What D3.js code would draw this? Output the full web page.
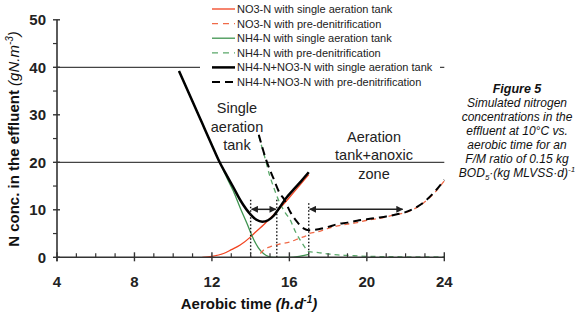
<!DOCTYPE html>
<html>
<head>
<meta charset="utf-8">
<script src="https://cdn.jsdelivr.net/npm/d3@7"></script>
<style>
  html, body { margin: 0; padding: 0; background: #fff; }
  svg { display: block; font-family: "Liberation Sans", Arial, sans-serif; }
</style>
</head>
<body>
<svg id="chart" width="580" height="315"></svg>
<script>
// ---------- DATA ----------
const xTicks = [4, 8, 12, 16, 20, 24];
const yTicks = [0, 10, 20, 30, 40, 50];
const gridValues = [20, 40];

// NO3-N with single aeration tank
const no3SingleX = [11.5, 12.0, 12.6, 13.0, 13.46, 14.0, 14.3, 14.66, 15.0, 15.5, 16.0, 16.5, 17.0];
const no3SingleY = [0, 0.2, 0.8, 1.6, 2.6, 4.3, 5.5, 6.8, 8.2, 10.3, 12.6, 15.0, 17.4];

// NO3-N with pre-denitrification
const no3PreX = [14.5, 14.66, 15.0, 15.5, 16.0, 16.5, 16.95, 17.0, 17.5, 18.0, 18.5, 19.0, 19.5, 20.0, 20.5, 21.0, 21.5, 22.0, 22.5, 23.0, 23.5, 24.0];
const no3PreY = [0.8, 1.5, 2.2, 2.8, 3.2, 4.0, 4.8, 5.0, 5.4, 6.1, 6.6, 7.0, 7.3, 7.8, 8.1, 8.5, 9.0, 9.4, 10.3, 11.7, 13.6, 16.1];

// NH4-N with single aeration tank
const nh4SingleX = [10.3, 11.0, 11.5, 12.0, 12.4, 12.8, 13.1, 13.5, 13.8, 14.0, 14.15, 14.4, 14.66, 14.9, 15.2, 16.0, 16.5, 17.0];
const nh4SingleY = [39.2, 32.8, 28.2, 23.6, 20.0, 16.5, 14.0, 10.0, 7.2, 5.2, 3.8, 2.0, 0.8, 0.2, 0, 0, 0.2, 0.6];

// NH4-N with pre-denitrification
const nh4PreX = [14.42, 14.7, 15.0, 15.2, 15.5, 15.8, 16.04, 16.3, 16.56, 16.75, 17.0, 17.5, 18.0, 18.5, 19.0, 20.0, 21.0, 22.0, 24.0];
const nh4PreY = [25.5, 21.5, 17.0, 14.6, 11.5, 9.3, 7.9, 5.5, 3.6, 2.4, 1.2, 1.0, 0.7, 0.5, 0.4, 0.2, 0.15, 0.1, 0.1];

// NH4-N+NO3-N with single aeration tank
const totSingleX = [10.3, 11.0, 11.5, 12.0, 12.4, 12.8, 13.1, 13.5, 14.0, 14.3, 14.6, 14.9, 15.2, 15.5, 15.8, 16.2, 16.6, 17.0];
const totSingleY = [39.2, 32.8, 28.2, 23.6, 20.0, 17.0, 14.8, 11.8, 9.0, 7.9, 7.5, 7.8, 8.8, 10.5, 12.3, 14.2, 16.0, 17.9];

// NH4-N+NO3-N with pre-denitrification
const totPreX = [14.42, 14.8, 15.18, 15.5, 15.7, 16.04, 16.39, 16.73, 17.0, 17.5, 18.0, 18.5, 19.0, 19.5, 20.0, 20.5, 21.0, 21.5, 22.0, 22.5, 23.0, 23.5, 24.0];
const totPreY = [25.8, 20.5, 16.6, 13.5, 12.4, 9.6, 7.5, 6.1, 5.7, 5.9, 6.4, 7.0, 7.3, 7.7, 8.0, 8.3, 8.6, 9.0, 9.5, 10.4, 11.8, 13.8, 16.3];

// markers: dotted vertical lines and arrows
const dottedX = [14.0, 15.35, 17.0];
const dottedTop = [12.3, 12.3, 11.7];
const arrowFrom = [14.0, 17.0];
const arrowTo = [15.35, 21.9];
const arrowY = [10.1, 10.1];

const legendLabels = [
  "NO3-N with single aeration tank",
  "NO3-N with pre-denitrification",
  "NH4-N with single aeration tank",
  "NH4-N with pre-denitrification",
  "NH4-N+NO3-N with single aeration tank",
  "NH4-N+NO3-N with pre-denitrification"
];

// ---------- STYLES ----------
const RED = "#f2421f", RED_D = "#f06a48", GREEN = "#3f9450", GREEN_D = "#5aa86a";
const styles = [
  { color: RED, width: 1.3, dash: null },
  { color: RED_D, width: 1.3, dash: "5,4" },
  { color: GREEN, width: 1.3, dash: null },
  { color: GREEN_D, width: 1.3, dash: "5,4" },
  { color: "#000", width: 2.5, dash: null },
  { color: "#000", width: 2.0, dash: "8,5" }
];
const seriesX = [no3SingleX, no3PreX, nh4SingleX, nh4PreX, totSingleX, totPreX];
const seriesY = [no3SingleY, no3PreY, nh4SingleY, nh4PreY, totSingleY, totPreY];

// ---------- CHART ----------
const svg = d3.select("#chart");
const x = d3.scaleLinear().domain([4, 24]).range([57, 444.3]);
const y = d3.scaleLinear().domain([0, 50]).range([257.3, 19.8]);
const AX = "#333";

// gridlines
svg.selectAll("line.grid").data(gridValues).enter().append("line")
  .attr("x1", x(4)).attr("x2", x(24))
  .attr("y1", d => y(d)).attr("y2", d => y(d))
  .attr("stroke", "#444").attr("stroke-width", 1.2);

// series
const line = d3.line().x(d => x(d[0])).y(d => y(d[1])).curve(d3.curveMonotoneX);
const drawOrder = [0, 2, 1, 3, 5, 4];
drawOrder.forEach(i => {
  const pts = seriesX[i].map((v, k) => [v, seriesY[i][k]]);
  svg.append("path").datum(pts)
    .attr("d", line)
    .attr("fill", "none")
    .attr("stroke", styles[i].color)
    .attr("stroke-width", styles[i].width)
    .attr("stroke-dasharray", styles[i].dash)
    .attr("stroke-linejoin", "round");
});

// dotted vertical lines
svg.selectAll("line.dot").data(dottedX).enter().append("line")
  .attr("x1", d => x(d)).attr("x2", d => x(d))
  .attr("y1", y(0)).attr("y2", (d, i) => y(dottedTop[i]))
  .attr("stroke", "#111").attr("stroke-width", 1.4).attr("stroke-dasharray", "1.5,2");

// arrows
const defs = svg.append("defs");
defs.append("marker").attr("id", "ah").attr("viewBox", "0 0 10 10")
  .attr("refX", 9).attr("refY", 5).attr("markerWidth", 7).attr("markerHeight", 7)
  .attr("markerUnits", "userSpaceOnUse")
  .attr("orient", "auto-start-reverse")
  .append("path").attr("d", "M0,0L10,5L0,10z").attr("fill", "#222");
arrowFrom.forEach((f, i) => {
  svg.append("line")
    .attr("x1", x(f) + 1).attr("x2", x(arrowTo[i]) - 1)
    .attr("y1", y(arrowY[i])).attr("y2", y(arrowY[i]))
    .attr("stroke", "#222").attr("stroke-width", 1.5)
    .attr("marker-start", "url(#ah)").attr("marker-end", "url(#ah)");
});

// axes
svg.append("line").attr("x1", x(4)).attr("x2", x(24)).attr("y1", y(0)).attr("y2", y(0))
  .attr("stroke", AX).attr("stroke-width", 1.6);
svg.append("line").attr("x1", x(4)).attr("x2", x(4)).attr("y1", y(0) + 4).attr("y2", y(50))
  .attr("stroke", AX).attr("stroke-width", 1.6);

const xMinor = d3.range(5, 24, 1).filter(v => v % 4 !== 0);
svg.selectAll("line.xmin").data(xMinor).enter().append("line")
  .attr("x1", d => x(d)).attr("x2", d => x(d))
  .attr("y1", y(0)).attr("y2", y(0) - 4)
  .attr("stroke", AX).attr("stroke-width", 1.2);
svg.selectAll("line.xmaj").data(xTicks).enter().append("line")
  .attr("x1", d => x(d)).attr("x2", d => x(d))
  .attr("y1", y(0) + 4).attr("y2", y(0) - 5)
  .attr("stroke", AX).attr("stroke-width", 1.4);
svg.selectAll("text.xl").data(xTicks).enter().append("text")
  .attr("x", d => x(d)).attr("y", 287)
  .attr("text-anchor", "middle").attr("font-size", 15).attr("font-weight", "bold").attr("fill", "#222")
  .text(d => d);

const yMinor = d3.range(5, 50, 10);
svg.selectAll("line.ymin").data(yMinor).enter().append("line")
  .attr("x1", x(4) - 4).attr("x2", x(4))
  .attr("y1", d => y(d)).attr("y2", d => y(d))
  .attr("stroke", AX).attr("stroke-width", 1.2);
svg.selectAll("line.ymaj").data(yTicks).enter().append("line")
  .attr("x1", x(4) - 4).attr("x2", x(4) + 3)
  .attr("y1", d => y(d)).attr("y2", d => y(d))
  .attr("stroke", AX).attr("stroke-width", 1.4);
svg.selectAll("text.yl").data(yTicks).enter().append("text")
  .attr("x", 46).attr("y", d => y(d)).attr("dy", "0.36em")
  .attr("text-anchor", "end").attr("font-size", 15).attr("font-weight", "bold").attr("fill", "#222")
  .text(d => d);

// axis titles
const xt = svg.append("text").attr("x", 249).attr("y", 309)
  .attr("text-anchor", "middle").attr("font-size", 15).attr("font-weight", "bold").attr("fill", "#111");
xt.append("tspan").text("Aerobic time ");
xt.append("tspan").attr("font-style", "italic").text("(h.d");
xt.append("tspan").attr("font-style", "italic").attr("font-size", 10).attr("dy", -6).text("-1");
xt.append("tspan").attr("font-style", "italic").attr("dy", 6).text(")");

const yt = svg.append("text").attr("transform", "translate(19,139) rotate(-90)")
  .attr("text-anchor", "middle").attr("font-size", 15).attr("font-weight", "bold").attr("fill", "#111");
yt.append("tspan").text("N conc. in the effluent ");
yt.append("tspan").attr("font-style", "italic").attr("font-weight", "normal").text("(gN.m");
yt.append("tspan").attr("font-style", "italic").attr("font-weight", "normal").attr("font-size", 10).attr("dy", -6).text("-3");
yt.append("tspan").attr("font-style", "italic").attr("font-weight", "normal").attr("dy", 6).text(")");

// annotations
const ann1 = ["Single", "aeration", "tank"];
svg.selectAll("text.a1").data(ann1).enter().append("text")
  .attr("x", 237).attr("y", (d, i) => 113 + i * 18.5)
  .attr("text-anchor", "middle").attr("font-size", 14.5).attr("fill", "#222")
  .text(d => d);
const ann2 = ["Aeration", "tank+anoxic", "zone"];
svg.selectAll("text.a2").data(ann2).enter().append("text")
  .attr("x", 374).attr("y", (d, i) => 142 + i * 18.3)
  .attr("text-anchor", "middle").attr("font-size", 14.5).attr("fill", "#222")
  .text(d => d);

// legend
const lg = svg.append("g");
lg.append("rect").attr("x", 200).attr("y", 0).attr("width", 240).attr("height", 89).attr("fill", "#fff");
legendLabels.forEach((lab, i) => {
  const yy = 9 + i * 14.6;
  lg.append("line").attr("x1", 212).attr("x2", 235).attr("y1", yy).attr("y2", yy)
    .attr("stroke", styles[i].color).attr("stroke-width", styles[i].width)
    .attr("stroke-dasharray", i === 5 ? "8,5" : styles[i].dash ? "6,5" : null);
  lg.append("text").attr("x", 237).attr("y", yy).attr("dy", "0.36em")
    .attr("font-size", 11).attr("fill", "#222").text(lab);
});

// caption
const cap = svg.append("g").attr("fill", "#111").attr("font-style", "italic").attr("text-anchor", "middle");
cap.append("text").attr("x", 517).attr("y", 93.3).attr("font-size", 12.5).attr("font-weight", "bold").text("Figure 5");
const capLines = ["Simulated nitrogen", "concentrations in the", "effluent at 10°C vs.", "aerobic time for an", "F/M ratio of 0.15 kg"];
capLines.forEach((t, i) => {
  cap.append("text").attr("x", 517).attr("y", 107.3 + i * 14).attr("font-size", 12).text(t);
});
const last = cap.append("text").attr("x", 517).attr("y", 107.3 + 5 * 14).attr("font-size", 12);
last.append("tspan").text("BOD");
last.append("tspan").attr("font-size", 8).attr("dy", 3).text("5");
last.append("tspan").attr("dy", -3).text("·(kg MLVSS·d)");
last.append("tspan").attr("font-size", 8).attr("dy", -5).text("-1");
</script>
</body>
</html>
